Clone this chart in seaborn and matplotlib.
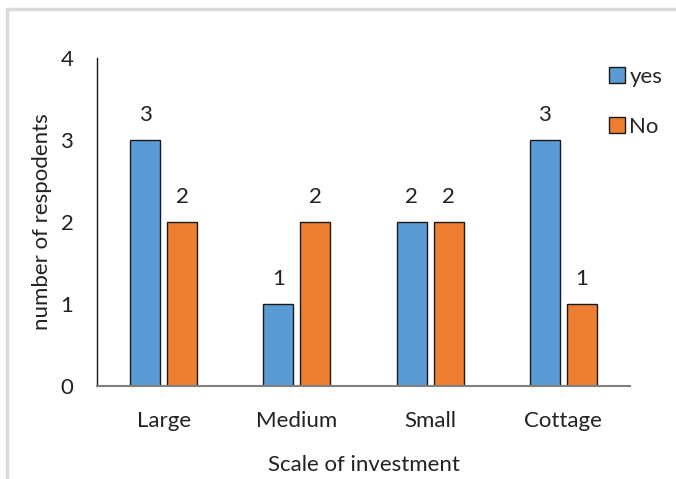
import matplotlib
matplotlib.use("Agg")
import matplotlib.pyplot as plt
from matplotlib.patches import Rectangle
import seaborn as sns
import pandas as pd

# Survey responses by scale of investment
categories = ["Large", "Medium", "Small", "Cottage"]
yes_counts = [3, 1, 2, 3]
no_counts = [2, 2, 2, 1]
series_names = ["yes", "No"]
y_ticks = [0, 1, 2, 3, 4]

df = pd.DataFrame({
    "scale": categories * 2,
    "answer": [series_names[0]] * len(categories) + [series_names[1]] * len(categories),
    "count": yes_counts + no_counts,
})

sns.set_theme(style="white")
plt.rcParams["font.family"] = ["Lato", "DejaVu Sans"]
FS = 16
TXT = "#222222"

fig = plt.figure(figsize=(6.76, 4.79), dpi=100)
ax = fig.add_axes([97 / 676, 93 / 479, 533 / 676, 328 / 479])

# Light gray chart-area frame running off the right and bottom edges
fig.patches.append(Rectangle((7 / 676, -0.2), 1.2, 0.2 + (479 - 9) / 479,
                             transform=fig.transFigure, fill=False,
                             edgecolor="#d9d9d9", linewidth=2.5, zorder=0))

sns.barplot(data=df, x="scale", y="count", hue="answer", order=categories,
            hue_order=series_names, palette=["#5B9BD5", "#ED7D31"],
            width=0.555, gap=0.19, edgecolor="#1a1a1a", linewidth=1.0,
            saturation=1, ax=ax)

for container in ax.containers:
    ax.bar_label(container, fmt="%d", padding=11, fontsize=FS, color=TXT)

ax.set_ylim(0, 4)
ax.set_xlim(-0.5, 3.5)
ax.set_yticks(y_ticks)
ax.tick_params(axis="y", length=0, pad=17, labelsize=FS, labelcolor=TXT)
ax.tick_params(axis="x", length=0, pad=18, labelsize=FS, labelcolor=TXT)
ax.set_xlabel("Scale of investment", fontsize=FS, color=TXT, labelpad=17)
ax.set_ylabel("number of respodents", fontsize=FS, color=TXT, labelpad=6)

for side in ["top", "right"]:
    ax.spines[side].set_visible(False)
ax.spines["left"].set_color("#1a1a1a")
ax.spines["left"].set_linewidth(1.0)
ax.spines["bottom"].set_color("#808080")
ax.spines["bottom"].set_linewidth(1.5)

leg = ax.legend(loc="upper left", bbox_to_anchor=(609 / 676, 1 - 67 / 479),
                bbox_transform=fig.transFigure, frameon=False, fontsize=FS,
                handlelength=0.72, handleheight=0.72, handletextpad=0.2,
                labelspacing=1.35, borderpad=0, borderaxespad=0)
for h in leg.legend_handles:
    h.set_edgecolor("#1a1a1a")
    h.set_linewidth(1.0)

fig.savefig("out.png", dpi=100, facecolor="white")
